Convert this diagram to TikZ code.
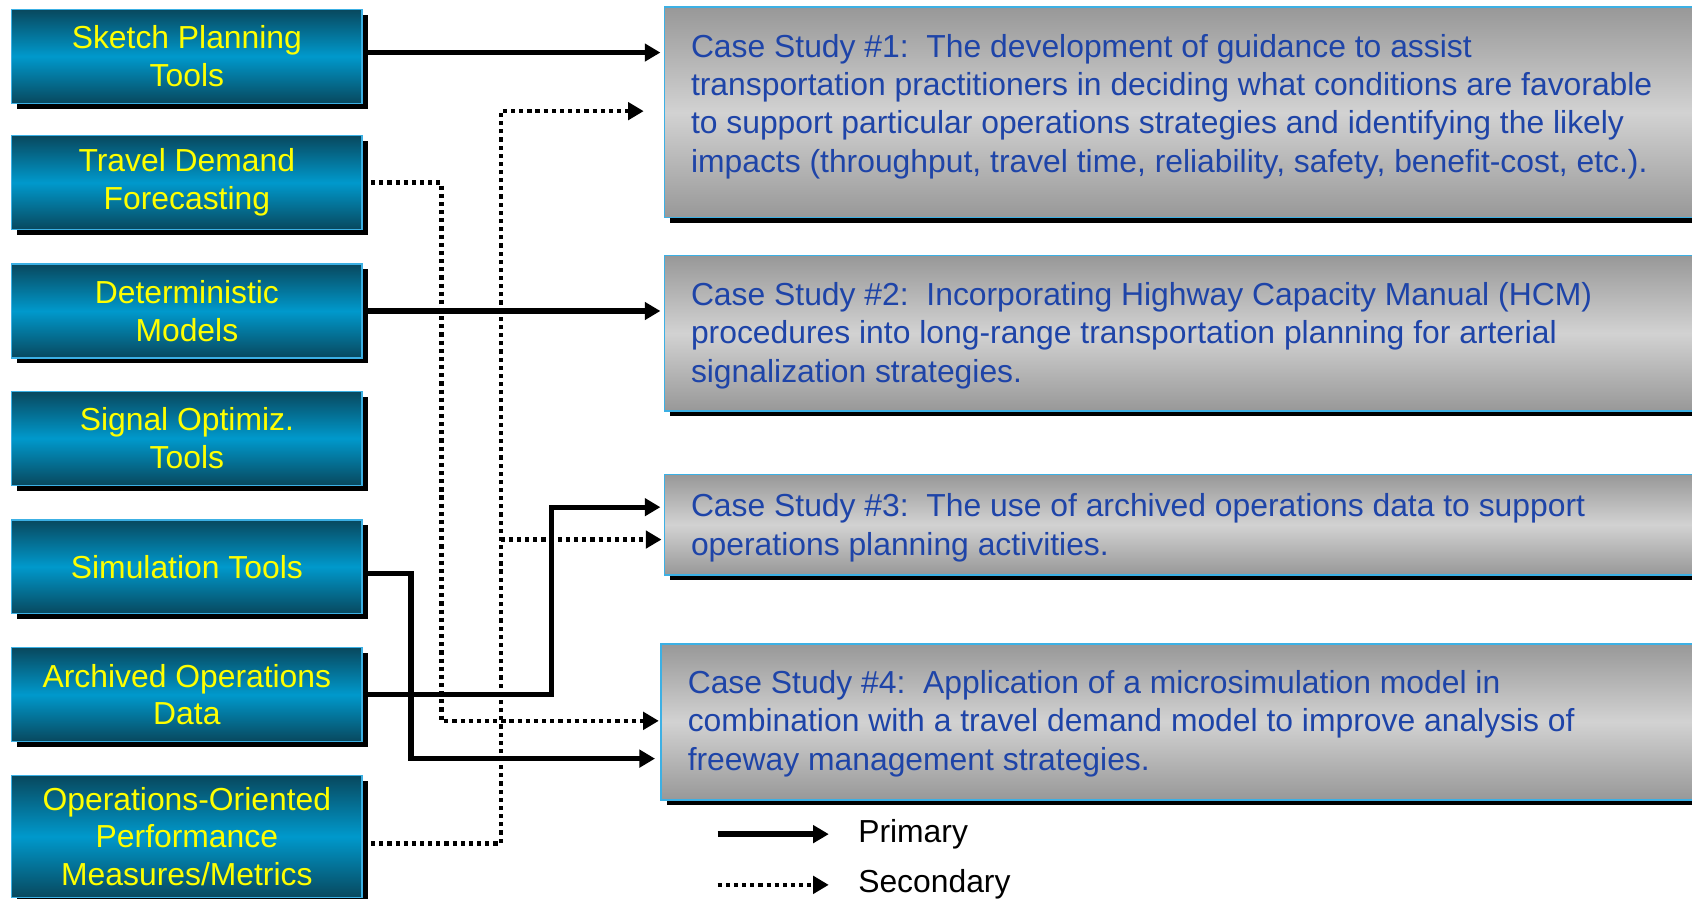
\documentclass[tikz,border=0pt]{standalone}
\usepackage{fontspec}
\setmainfont{Liberation Sans}
\usetikzlibrary{arrows.meta,shadows,calc}
\definecolor{boxdark}{RGB}{8,72,94}
\definecolor{boxmid}{RGB}{0,153,204}
\definecolor{edgeblue}{RGB}{60,176,228}
\definecolor{graydark}{RGB}{152,152,152}
\definecolor{graymid}{RGB}{210,210,210}
\definecolor{casetext}{RGB}{30,68,168}
\definecolor{tooltext}{RGB}{255,255,0}
\begin{document}
\begin{tikzpicture}[x=0.02cm,y=-0.02cm,
  toolbox/.style={draw=edgeblue, line width=0.8pt, top color=boxdark, bottom color=boxdark, middle color=boxmid,
    minimum width=6.5cm, minimum height=1.74cm, anchor=north west, align=center, text=tooltext,
    font=\fontsize{16.8}{19.9}\selectfont, inner sep=0pt,
    general shadow={fill=black, shadow xshift=0.1cm, shadow yshift=-0.1cm}},
  casebox/.style={draw=edgeblue, line width=0.8pt, top color=graydark, bottom color=graydark, middle color=graymid,
    minimum width=19.7cm, anchor=north west, inner sep=0pt,
    general shadow={fill=black, shadow xshift=0.1cm, shadow yshift=-0.1cm}},
  casetxt/.style={anchor=west, inner sep=0pt, align=left, text=casetext, font=\fontsize{16.8}{20.3}\selectfont},
  prim/.style={line width=2.8pt, -{Triangle[length=0.29cm,width=0.32cm]}},
  sec/.style={line width=2.3pt, dash pattern=on 2.2pt off 2.1pt, -{Triangle[length=0.29cm,width=0.32cm]}},
  legendtext/.style={anchor=west, inner sep=0pt, font=\fontsize{16.8}{20}\selectfont}
]
\useasboundingbox (0,0) rectangle (1568,833);
\clip (0,0) rectangle (1568,833);

% tool boxes
\node[toolbox] (s1) at (10,8) {Sketch Planning\\Tools};
\node[toolbox] (s2) at (10,125) {Travel Demand\\Forecasting};
\node[toolbox] (s3) at (10,244) {Deterministic\\Models};
\node[toolbox] (s4) at (10,362) {Signal Optimiz.\\Tools};
\node[toolbox] (s5) at (10,481) {Simulation Tools};
\node[toolbox] (s6) at (10,599.5) {Archived Operations\\Data};
\node[toolbox, minimum height=2.26cm] (s7) at (10,718) {Operations-Oriented\\Performance\\Measures/Metrics};

% case study boxes
\node[casebox, minimum height=3.9cm] (c1) at (615,6) {};
\node[casebox, minimum height=2.88cm] (c2) at (615,236) {};
\node[casebox, minimum height=1.86cm] (c3) at (615,439) {};
\node[casebox, minimum height=2.89cm] (c4) at (612,596) {};

\node[casetxt] (t1) at (640,98.7) {Case Study \#1:\ \ The development of guidance to assist\\transportation practitioners in deciding what conditions are favorable\\to support particular operations strategies and identifying the likely\\impacts (throughput, travel time, reliability, safety, benefit-cost, etc.).};
\node[casetxt] (t2) at (640,310.7) {Case Study \#2:\ \ Incorporating Highway Capacity Manual (HCM)\\procedures into long-range transportation planning for arterial\\signalization strategies.};
\node[casetxt] (t3) at (640,489.2) {Case Study \#3:\ \ The use of archived operations data to support\\operations planning activities.};
\node[casetxt] (t4) at (637,670.7) {Case Study \#4:\ \ Application of a microsimulation model in\\combination with a travel demand model to improve analysis of\\freeway management strategies.};

% bend points
\coordinate (v2) at (409,668);
\coordinate (v5) at (381,703);
\coordinate (v6) at (511,470);
\coordinate (v7) at (464,103);
\coordinate (v7b) at (464,500);

% connectors
\draw[prim, shorten >=0.06cm] ([yshift=0.07cm]s1.east) -- ([yshift=0.07cm]s1.east -| c1.west);
\draw[sec, shorten >=0.03cm] (s2.east) -| (v2) -- (v2 -| c4.west);
\draw[prim, shorten >=0.06cm] (s3.east) -- (s3.east -| c2.west);
\draw[prim, shorten >=0.1cm] ([yshift=-0.13cm]s5.east) -| (v5) -- (v5 -| c4.west);
\draw[prim, shorten >=0.06cm] (s6.east) -| (v6) -- (v6 -| c3.west);
\draw[sec, shorten >=0.37cm] ([yshift=-0.13cm]s7.east) -| (v7) -- (v7 -| c1.west);
\draw[sec, shorten >=0.04cm] (v7b) -- (v7b -| c3.west);

% legend
\node[legendtext] (lp) at (795,773) {Primary};
\node[legendtext] (ls) at (795,819) {Secondary};
\coordinate (lpa) at (665,773);
\coordinate (lsa) at (665,820);
\draw[prim, shorten >=0.54cm] (lpa) -- (lpa -| lp.west);
\draw[sec, shorten >=0.54cm] (lsa) -- (lsa -| ls.west);
\end{tikzpicture}
\end{document}
